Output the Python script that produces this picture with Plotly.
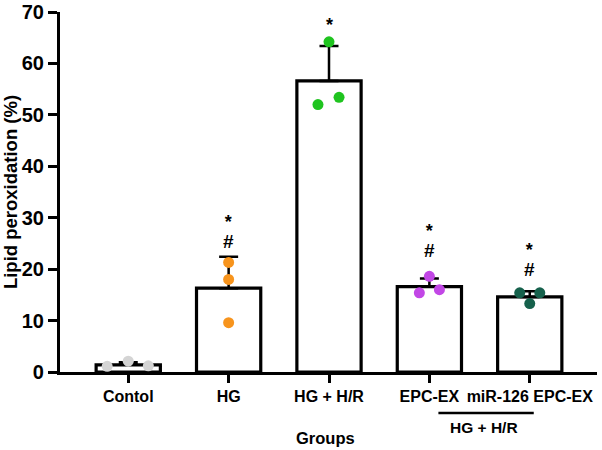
import plotly.graph_objects as go

categories = ["Contol", "HG", "HG + H/R", "EPC-EX", "miR-126 EPC-EX"]
means = [1.4, 16.3, 56.6, 16.6, 14.6]
sds = [0.5, 6.1, 6.8, 1.6, 1.1]
points = [
    [1.1, 2.1, 1.2],
    [21.3, 18.0, 9.6],
    [64.2, 52.0, 53.4],
    [18.6, 15.4, 16.0],
    [15.4, 15.4, 13.3],
]
jitter = [
    [-0.21, 0.0, 0.20],
    [0.0, 0.0, 0.0],
    [0.0, -0.11, 0.10],
    [0.0, -0.10, 0.10],
    [-0.10, 0.10, 0.0],
]
point_colors = ["#d4d4d4", "#f7941d", "#1fc41f", "#c247e6", "#16614c"]
marks = [[], ["*", "#"], ["*"], ["*", "#"], ["*", "#"]]
# pixel offset of the mark block centre above the highest point
mark_px = [0, 30, 17, 35, 33]
y_ticks = [0, 10, 20, 30, 40, 50, 60, 70]

FONT = "Liberation Sans, Arial, sans-serif"
xs = list(range(len(categories)))

fig = go.Figure()
fig.add_trace(go.Bar(
    x=xs, y=means, width=0.64,
    marker=dict(color="white", line=dict(color="black", width=3.2)),
    error_y=dict(type="data", symmetric=False, array=sds,
                 arrayminus=[0] * len(sds), color="black",
                 thickness=2.5, width=9.5),
    showlegend=False,
))
for i, pts in enumerate(points):
    fig.add_trace(go.Scatter(
        x=[xs[i] + j for j in jitter[i]], y=pts, mode="markers",
        marker=dict(color=point_colors[i], size=11),
        cliponaxis=False, showlegend=False,
    ))

ann = []
for i, m in enumerate(marks):
    if not m:
        continue
    lines = []
    for s in m:
        sz = 19 if s == "#" else 18
        lines.append('<span style="font-size:%dpx"><b>%s</b></span>' % (sz, s))
    ann.append(dict(x=xs[i], y=max(points[i]), xref="x", yref="y",
                    text="<br>".join(lines),
                    showarrow=False, yshift=mark_px[i], yanchor="middle",
                    font=dict(family=FONT, size=15, color="black")))

ann.append(dict(x=3.54, y=-0.155, xref="x", yref="paper", text="<b>HG + H/R</b>",
                showarrow=False, yanchor="middle",
                font=dict(family=FONT, size=15.5, color="black")))
ann.append(dict(x=1.97, y=-0.183, xref="x", yref="paper", text="<b>Groups</b>",
                showarrow=False, yanchor="middle",
                font=dict(family=FONT, size=16.5, color="black")))

fig.add_shape(type="line", xref="x", yref="paper", x0=3.09, x1=4.04,
              y0=-0.114, y1=-0.114, line=dict(color="black", width=2.5))

fig.update_layout(
    width=602, height=450,
    margin=dict(l=60, r=5, t=12, b=78),
    plot_bgcolor="white", paper_bgcolor="white",
    annotations=ann,
    font=dict(family=FONT, color="black"),
    xaxis=dict(range=[-0.68, 4.67], tickvals=xs, automargin=False,
               ticktext=["<b>%s</b>" % c for c in categories],
               tickfont=dict(family=FONT, size=16, color="black"),
               showline=True, linecolor="black", linewidth=3.2,
               ticks="outside", ticklen=8, tickwidth=3, tickcolor="black",
               showgrid=False, zeroline=False),
    yaxis=dict(range=[0, 70], tickvals=y_ticks, automargin=False,
               ticktext=["<b>%d</b>" % v for v in y_ticks],
               tickfont=dict(family=FONT, size=20, color="black"),
               title=dict(text="<b>Lipid peroxidation (%)</b>",
                          font=dict(family=FONT, size=18.5, color="black"), standoff=4),
               showline=True, linecolor="black", linewidth=3.2,
               ticks="outside", ticklen=9, tickwidth=3, tickcolor="black",
               showgrid=False, zeroline=False),
)

fig.write_html("out.html", config={"displayModeBar": False},
               post_script="document.body.style.margin='0';document.body.style.overflow='hidden';")
